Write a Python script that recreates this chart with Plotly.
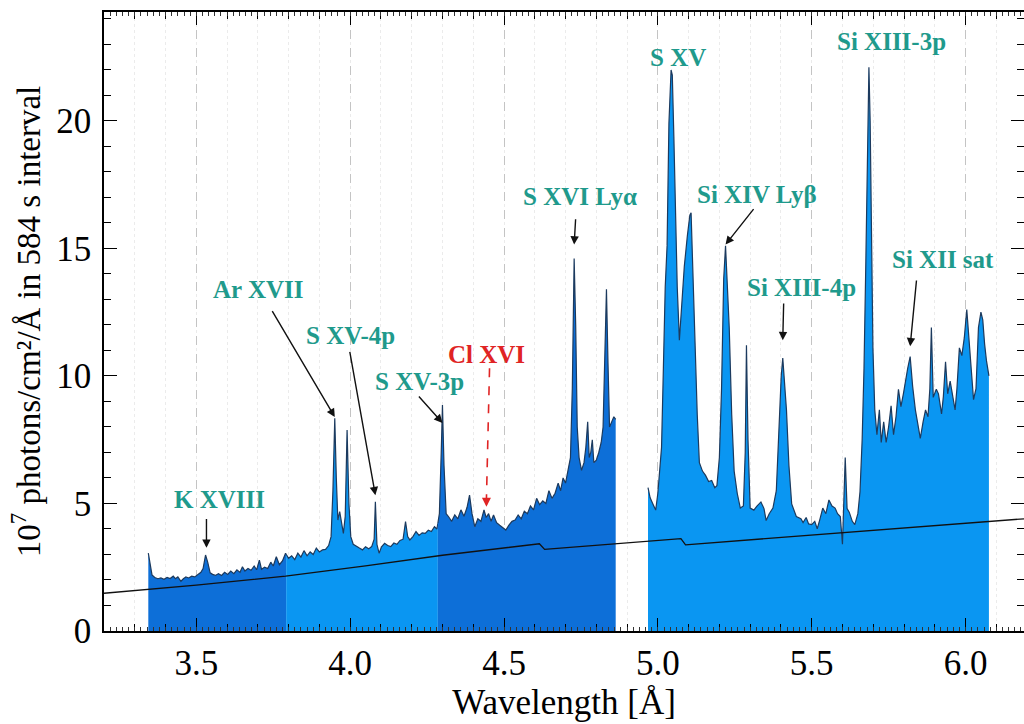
import numpy as np
import plotly.graph_objects as go

# ---------------- data ----------------
# spectrum, first detector span (Å, 1e7 photons/cm2/Å)
wl_a = [3.344, 3.350, 3.356, 3.365, 3.375, 3.385, 3.395, 3.405, 3.415, 3.425, 3.432, 3.440, 3.450, 3.458,
        3.466, 3.475, 3.485, 3.495, 3.505, 3.515, 3.522, 3.530, 3.537, 3.545, 3.553, 3.562, 3.572, 3.582,
        3.592, 3.602, 3.612, 3.622, 3.632, 3.642, 3.650, 3.658, 3.668, 3.678, 3.688, 3.696, 3.705, 3.712,
        3.722, 3.732, 3.742, 3.750, 3.760, 3.770, 3.780, 3.790, 3.800, 3.810, 3.820, 3.830, 3.840, 3.850,
        3.860, 3.870, 3.880, 3.890, 3.900, 3.910, 3.920, 3.930, 3.938, 3.944, 3.950, 3.955, 3.960, 3.966,
        3.972, 3.978, 3.984, 3.990, 3.996, 4.002, 4.010, 4.020, 4.030, 4.040, 4.050, 4.060, 4.070, 4.078,
        4.082, 4.087, 4.094, 4.102, 4.112, 4.122, 4.132, 4.142, 4.152, 4.162, 4.172, 4.180, 4.187, 4.194,
        4.204, 4.214, 4.224, 4.234, 4.244, 4.254, 4.264, 4.274, 4.282, 4.290, 4.296, 4.300, 4.305, 4.312,
        4.320, 4.330, 4.340, 4.350, 4.360, 4.370, 4.380, 4.388, 4.396, 4.405, 4.415, 4.425, 4.435, 4.442,
        4.450, 4.458, 4.466, 4.476, 4.486, 4.496, 4.506, 4.516, 4.526, 4.536, 4.546, 4.556, 4.566, 4.576,
        4.586, 4.596, 4.606, 4.616, 4.626, 4.636, 4.646, 4.656, 4.666, 4.676, 4.684, 4.692, 4.700, 4.708,
        4.716, 4.722, 4.728, 4.733, 4.738, 4.744, 4.752, 4.760, 4.766, 4.772, 4.777, 4.782, 4.787, 4.792,
        4.800, 4.808, 4.816, 4.822, 4.828, 4.833, 4.838, 4.843, 4.850, 4.857, 4.863]
flux_a = [3.05, 2.60, 2.20, 2.10, 2.05, 2.08, 2.03, 2.10, 2.06, 2.15, 2.05, 2.12, 1.95, 2.05,
          2.12, 2.08, 2.15, 2.12, 2.20, 2.30, 2.45, 2.98, 2.70, 2.28, 2.22, 2.18, 2.25, 2.18,
          2.30, 2.22, 2.35, 2.25, 2.40, 2.30, 2.52, 2.35, 2.45, 2.38, 2.55, 2.40, 2.78, 2.42,
          2.50, 2.45, 2.70, 2.55, 2.91, 2.60, 2.75, 3.05, 2.85, 2.95, 2.80, 3.05, 2.90, 3.15,
          2.95, 3.10, 3.00, 3.25, 3.10, 3.18, 3.20, 3.35, 3.70, 5.50, 8.34, 6.00, 4.35, 4.68,
          4.20, 3.83, 4.50, 7.88, 5.00, 3.70, 3.40, 3.31, 3.25, 3.18, 3.30, 3.22, 3.31, 3.60,
          5.07, 3.40, 3.05, 3.30, 3.44, 3.35, 3.31, 3.45, 3.40, 3.55, 3.60, 4.29, 3.70, 3.57,
          3.70, 3.90, 3.75, 3.85, 3.83, 3.95, 3.90, 4.09, 4.00, 4.60, 7.00, 8.86, 6.50, 4.60,
          4.48, 4.30, 4.55, 4.40, 4.75, 4.50, 4.85, 5.33, 4.60, 4.09, 4.40, 4.30, 4.75, 4.45,
          4.60, 4.30, 4.55, 4.25, 4.15, 4.05, 3.96, 4.15, 4.30, 4.35, 4.55, 4.40, 4.70, 4.60,
          4.90, 4.75, 5.20, 4.95, 5.10, 5.00, 5.50, 5.20, 5.40, 5.80, 5.50, 6.00, 5.80, 6.30,
          6.80, 9.50, 14.60, 12.00, 8.00, 6.80, 6.30, 6.60, 7.20, 8.20, 6.80, 7.00, 7.50, 6.60,
          6.70, 7.00, 7.40, 8.00, 10.50, 13.40, 10.50, 8.00, 8.20, 8.40, 8.30]

# spectrum, second detector span
wl_b = [4.968, 4.975, 4.985, 4.993, 5.000, 5.006, 5.012, 5.018, 5.024, 5.030, 5.036, 5.043, 5.047, 5.052,
        5.058, 5.063, 5.070, 5.076, 5.086, 5.096, 5.104, 5.108, 5.114, 5.120, 5.128, 5.135, 5.145, 5.155,
        5.165, 5.175, 5.185, 5.192, 5.200, 5.207, 5.214, 5.220, 5.226, 5.232, 5.240, 5.248, 5.258, 5.268,
        5.278, 5.284, 5.288, 5.293, 5.300, 5.312, 5.322, 5.335, 5.345, 5.352, 5.362, 5.374, 5.385, 5.394,
        5.401, 5.406, 5.412, 5.418, 5.426, 5.435, 5.450, 5.465, 5.472, 5.482, 5.490, 5.500, 5.510, 5.518,
        5.526, 5.536, 5.546, 5.556, 5.566, 5.576, 5.584, 5.593, 5.600, 5.604, 5.609, 5.615, 5.622, 5.632,
        5.640, 5.650, 5.657, 5.664, 5.670, 5.676, 5.682, 5.686, 5.690, 5.694, 5.699, 5.705, 5.712, 5.720,
        5.726, 5.734, 5.742, 5.750, 5.758, 5.766, 5.774, 5.782, 5.790, 5.798, 5.806, 5.812, 5.820, 5.828,
        5.837, 5.846, 5.853, 5.862, 5.870, 5.878, 5.884, 5.889, 5.895, 5.905, 5.912, 5.922, 5.928, 5.935,
        5.942, 5.950, 5.958, 5.966, 5.972, 5.980, 5.988, 5.996, 6.004, 6.010, 6.016, 6.026, 6.034, 6.042,
        6.050, 6.056, 6.062, 6.068, 6.076]
flux_b = [5.62, 5.22, 4.95, 4.74, 5.40, 6.27, 7.20, 10.30, 13.50, 15.10, 19.90, 22.00, 21.80, 19.40,
          15.50, 13.50, 11.40, 12.50, 14.30, 15.50, 16.30, 16.40, 14.00, 11.90, 8.50, 6.60, 6.27, 6.10,
          5.86, 5.90, 5.62, 5.70, 6.80, 9.50, 13.80, 15.10, 13.50, 11.90, 8.50, 6.27, 5.40, 4.82,
          4.90, 7.00, 11.20, 7.50, 4.82, 4.74, 4.90, 5.06, 4.80, 4.33, 4.60, 4.82, 5.50, 8.35,
          10.00, 10.70, 9.80, 8.67, 6.50, 4.98, 4.49, 4.40, 4.25, 4.45, 4.20, 4.17, 4.30, 4.01,
          4.35, 4.82, 4.60, 5.14, 4.90, 4.82, 4.60, 4.49, 3.40, 4.80, 6.80, 4.80, 4.66, 4.30,
          4.17, 4.60, 5.46, 7.50, 10.30, 14.50, 18.30, 22.10, 20.00, 16.70, 11.10, 8.67, 7.70, 8.67,
          7.39, 8.20, 7.39, 8.00, 8.83, 7.70, 8.40, 9.48, 8.80, 9.30, 9.90, 10.30, 10.76, 9.60,
          8.67, 8.10, 7.55, 8.20, 8.67, 8.40, 9.50, 11.90, 9.16, 9.48, 9.30, 8.51, 9.20, 10.56,
          9.30, 9.80, 9.30, 8.67, 9.50, 11.10, 10.80, 11.50, 12.60, 11.60, 10.40, 9.07, 9.50, 11.90,
          12.50, 12.20, 11.25, 10.60, 10.00]

# wavelengths where the fill colour changes within the first span
band_edges = [3.792, 4.285]

# continuum model
cont_wl = [3.20, 3.50, 3.79, 4.05, 4.30, 4.615, 4.632, 5.075, 5.090, 5.60, 6.19]
cont_flux = [1.48, 1.80, 2.15, 2.55, 2.97, 3.42, 3.20, 3.62, 3.38, 3.85, 4.40]

# identified lines
line_names = ["K XVIII", "Ar XVII", "S XV-4p", "S XV-3p", "Cl XVI", "S XVI Lyα",
              "S XV", "Si XIV Lyβ", "Si XIII-4p", "Si XIII-3p", "Si XII sat"]
line_wl = [3.533, 3.950, 4.082, 4.300, 4.443, 4.728, 5.043, 5.220, 5.406, 5.686, 5.820]

x_ticks = [3.5, 4.0, 4.5, 5.0, 5.5, 6.0]
x_ticktext = ["3.5", "4.0", "4.5", "5.0", "5.5", "6.0"]
y_ticks = [0, 5, 10, 15, 20]
y_ticktext = ["0", "5", "10", "15", "20"]

# ---------------- styling / layout ----------------
DARK = "#0d6fd8"
LIGHT = "#0a96f2"
EDGE = "#1c3a5e"
TEAL = "#1f9a8c"
RED = "#e02424"
SERIF = "Liberation Serif"

# label placement: (text x, text y, arrow tail x, tail y, head dy above flux, dashed, colour)
label_layout = {
    "K XVIII":    (3.575, 5.15, 3.533, 4.45, 0.40, False, TEAL),
    "Ar XVII":    (3.702, 13.4, 3.744, 12.6, 0.05, False, TEAL),
    "S XV-4p":    (4.001, 11.6, 3.998, 11.0, 0.25, False, TEAL),
    "S XV-3p":    (4.225, 9.8, 4.219, 9.25, -0.70, False, TEAL),
    "Cl XVI":     (4.443, 10.85, 4.453, 10.3, 0.40, True, RED),
    "S XVI Lyα":  (4.746, 17.05, 4.733, 16.2, 0.55, False, TEAL),
    "S XV":       (5.067, 22.5, None, None, None, False, TEAL),
    "Si XIV Lyβ": (5.321, 17.1, 5.315, 16.6, 0.05, False, TEAL),
    "Si XIII-4p": (5.467, 13.45, 5.409, 12.9, 0.70, False, TEAL),
    "Si XIII-3p": (5.760, 23.1, None, None, None, False, TEAL),
    "Si XII sat": (5.926, 14.55, 5.841, 13.8, 0.40, False, TEAL),
}

X_RANGE = [3.2, 6.19]
Y_RANGE = [0, 24.27]

fig = go.Figure()

wa = np.array(wl_a)
fa = np.array(flux_a)
wb = np.array(wl_b)
fb = np.array(flux_b)


def piece(w, f, lo, hi):
    m = (w > lo) & (w < hi)
    xs = list(w[m])
    ys = list(f[m])
    if lo > w[0]:
        xs = [lo] + xs
        ys = [float(np.interp(lo, w, f))] + ys
    if hi < w[-1]:
        xs = xs + [hi]
        ys = ys + [float(np.interp(hi, w, f))]
    return xs, ys


bounds = [wa[0] - 1e-9] + band_edges + [wa[-1] + 1e-9]
colors_a = [DARK, LIGHT, DARK]
for i in range(3):
    xs, ys = piece(wa, fa, bounds[i], bounds[i + 1])
    fig.add_trace(go.Scatter(x=xs, y=ys, mode="lines", fill="tozeroy", fillcolor=colors_a[i],
                             line=dict(color=EDGE, width=1.2), hoverinfo="skip", showlegend=False))

fig.add_trace(go.Scatter(x=wl_b, y=flux_b, mode="lines", fill="tozeroy", fillcolor=LIGHT,
                         line=dict(color=EDGE, width=1.2), hoverinfo="skip", showlegend=False))

# continuum (drawn on overlay axis that carries the fine ruler ticks)
fig.add_trace(go.Scatter(x=cont_wl, y=cont_flux, mode="lines", xaxis="x2",
                         line=dict(color="#111111", width=1.3), hoverinfo="skip", showlegend=False))


def flux_at(w):
    if w <= wa[-1]:
        return float(np.interp(w, wa, fa))
    return float(np.interp(w, wb, fb))


annotations = []
shapes = []
for name, wl in zip(line_names, line_wl):
    tx, ty, ax, ay, dy, dashed, col = label_layout[name]
    annotations.append(dict(x=tx, y=ty, xref="x", yref="y", text="<b>%s</b>" % name, showarrow=False,
                            font=dict(family=SERIF, size=25, color=col), xanchor="center", yanchor="middle"))
    if ax is None:
        continue
    hy = flux_at(wl) + dy
    if dashed:
        shapes.append(dict(type="line", xref="x", yref="y", x0=ax, y0=ay, x1=wl, y1=hy + 0.35,
                           line=dict(color=col, width=1.6, dash="dash")))
        annotations.append(dict(x=wl, y=hy, xref="x", yref="y", ax=0, ay=-9, axref="pixel", ayref="pixel",
                                text="", showarrow=True, arrowhead=2, arrowsize=1.2, arrowwidth=1.5,
                                arrowcolor=col))
    else:
        annotations.append(dict(x=wl, y=hy, xref="x", yref="y", ax=ax, ay=ay, axref="x", ayref="y",
                                text="", showarrow=True, arrowhead=2, arrowsize=1.2, arrowwidth=1.4,
                                arrowcolor="#111111"))

fig.update_layout(
    width=1024, height=724,
    margin=dict(l=104, r=0, t=12, b=93),
    paper_bgcolor="white", plot_bgcolor="white",
    font=dict(family=SERIF, color="black"),
    annotations=annotations, shapes=shapes,
    xaxis=dict(range=X_RANGE, tickmode="array", tickvals=x_ticks, ticktext=x_ticktext,
               ticks="inside", ticklen=13, tickwidth=1.3, tickcolor="black",
               showline=True, linecolor="black", linewidth=1.5, mirror="ticks",
               showgrid=True, gridcolor="#c4c4c4", griddash="dash", gridwidth=1,
               minor=dict(dtick=0.1, tick0=0, ticks="inside", ticklen=7, tickwidth=1, tickcolor="black",
                          showgrid=True, gridcolor="#ebebeb", griddash="dot", gridwidth=1),
               zeroline=False, tickfont=dict(family=SERIF, size=35, color="black"),
               ticklabelstandoff=0,
               title=dict(text="Wavelength [Å]", font=dict(family=SERIF, size=35, color="black"),
                          standoff=0),
               automargin=False),
    xaxis2=dict(range=X_RANGE, overlaying="x", anchor="y", side="bottom",
                tickmode="linear", tick0=0, dtick=0.02, ticks="inside", ticklen=4, tickwidth=1,
                tickcolor="#333333", showticklabels=False, showline=True, linecolor="black",
                linewidth=1.5, mirror="ticks", showgrid=False, zeroline=False, automargin=False),
    yaxis=dict(range=Y_RANGE, tickmode="array", tickvals=y_ticks, ticktext=y_ticktext,
               ticks="inside", ticklen=13, tickwidth=1.3, tickcolor="black",
               showline=True, linecolor="black", linewidth=1.5, mirror="ticks",
               showgrid=False, zeroline=False,
               minor=dict(dtick=1, tick0=0, ticks="inside", ticklen=7, tickwidth=1, tickcolor="black",
                          showgrid=False),
               tickfont=dict(family=SERIF, size=35, color="black"),
               ticklabelstandoff=4,
               title=dict(text="10<sup>7</sup> photons/cm²/Å in 584 s interval",
                          font=dict(family=SERIF, size=33, color="black"), standoff=6),
               automargin=False),
)

fig.write_html("out.html", config={"displayModeBar": False},
               post_script="document.body.style.margin='0';document.body.style.overflow='hidden';")
